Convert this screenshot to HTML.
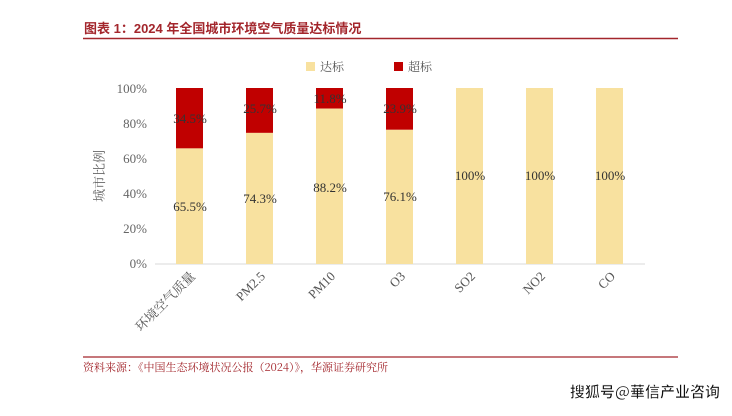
<!DOCTYPE html>
<html><head><meta charset="utf-8"><style>
body{margin:0;background:#fff;width:732px;height:411px;overflow:hidden;font-family:"Liberation Serif","Noto Serif CJK SC",serif}
</style></head><body>
<svg width="732" height="411" xmlns="http://www.w3.org/2000/svg">
<text x="84" y="33" font-family="Liberation Sans,Noto Sans CJK SC,sans-serif" font-size="13" font-weight="bold" fill="#a3262c">图表 1：2024 年全国城市环境空气质量达标情况</text>
<line x1="83" y1="38.5" x2="678" y2="38.5" stroke="#a3262c" stroke-width="1.5"/>
<rect x="306" y="62" width="9" height="9" fill="#f8e19f"/>
<text x="320" y="71" font-size="12" fill="#555" font-family="Noto Serif CJK SC,serif">达标</text>
<rect x="394" y="62" width="9" height="9" fill="#c00000"/>
<text x="408" y="71" font-size="12" fill="#555" font-family="Noto Serif CJK SC,serif">超标</text>
<g font-size="13" fill="#666" text-anchor="end">
<text x="147" y="93">100%</text><text x="147" y="128">80%</text><text x="147" y="163">60%</text>
<text x="147" y="198">40%</text><text x="147" y="233">20%</text><text x="147" y="268">0%</text>
</g>
<text transform="translate(104,176) rotate(-90)" font-size="13" fill="#666" text-anchor="middle" font-family="Noto Serif CJK SC,serif">城市比例</text>
<line x1="155" y1="264" x2="645" y2="264" stroke="#d9d9d9" stroke-width="1"/>
<g>
<rect x="176" y="88" width="27" height="60.4" fill="#c00000"/><rect x="176" y="148.4" width="27" height="115.6" fill="#f8e19f"/>
<rect x="246" y="88" width="27" height="44.9" fill="#c00000"/><rect x="246" y="132.9" width="27" height="131.1" fill="#f8e19f"/>
<rect x="316" y="88" width="27" height="20.6" fill="#c00000"/><rect x="316" y="108.6" width="27" height="155.4" fill="#f8e19f"/>
<rect x="386" y="88" width="27" height="41.8" fill="#c00000"/><rect x="386" y="129.8" width="27" height="134.2" fill="#f8e19f"/>
<rect x="456" y="88" width="27" height="176" fill="#f8e19f"/>
<rect x="526" y="88" width="27" height="176" fill="#f8e19f"/>
<rect x="596" y="88" width="27" height="176" fill="#f8e19f"/>
</g>
<g font-size="13" fill="#333" text-anchor="middle">
<text x="190" y="123">34.5%</text><text x="190" y="211">65.5%</text>
<text x="260" y="113">25.7%</text><text x="260" y="203">74.3%</text>
<text x="330" y="103">11.8%</text><text x="330" y="192">88.2%</text>
<text x="400" y="113">23.9%</text><text x="400" y="201">76.1%</text>
<text x="470" y="180">100%</text><text x="540" y="180">100%</text><text x="610" y="180">100%</text>
</g>
<g font-size="13" fill="#555" text-anchor="end">
<text transform="translate(196,277) rotate(-45)" font-family="Noto Serif CJK SC,serif">环境空气质量</text>
<text transform="translate(266,277) rotate(-45)">PM2.5</text>
<text transform="translate(336,277) rotate(-45)">PM10</text>
<text transform="translate(406,277) rotate(-45)">O3</text>
<text transform="translate(476,277) rotate(-45)">SO2</text>
<text transform="translate(546,277) rotate(-45)">NO2</text>
<text transform="translate(616,277) rotate(-45)">CO</text>
</g>
<line x1="83" y1="357" x2="678" y2="357" stroke="#a3262c" stroke-width="1.2"/>
<text x="83" y="371" font-size="11" fill="#a3262c" font-family="Noto Serif CJK SC,serif">资料来源：《中国生态环境状况公报（2024）》，华源证券研究所</text>
<text x="720" y="397" font-size="15" fill="#111" text-anchor="end" font-family="Noto Sans CJK SC,sans-serif" font-weight="bold" stroke="#fff" stroke-width="0.6">搜狐号@華信产业咨询</text>
</svg>
</body></html>
